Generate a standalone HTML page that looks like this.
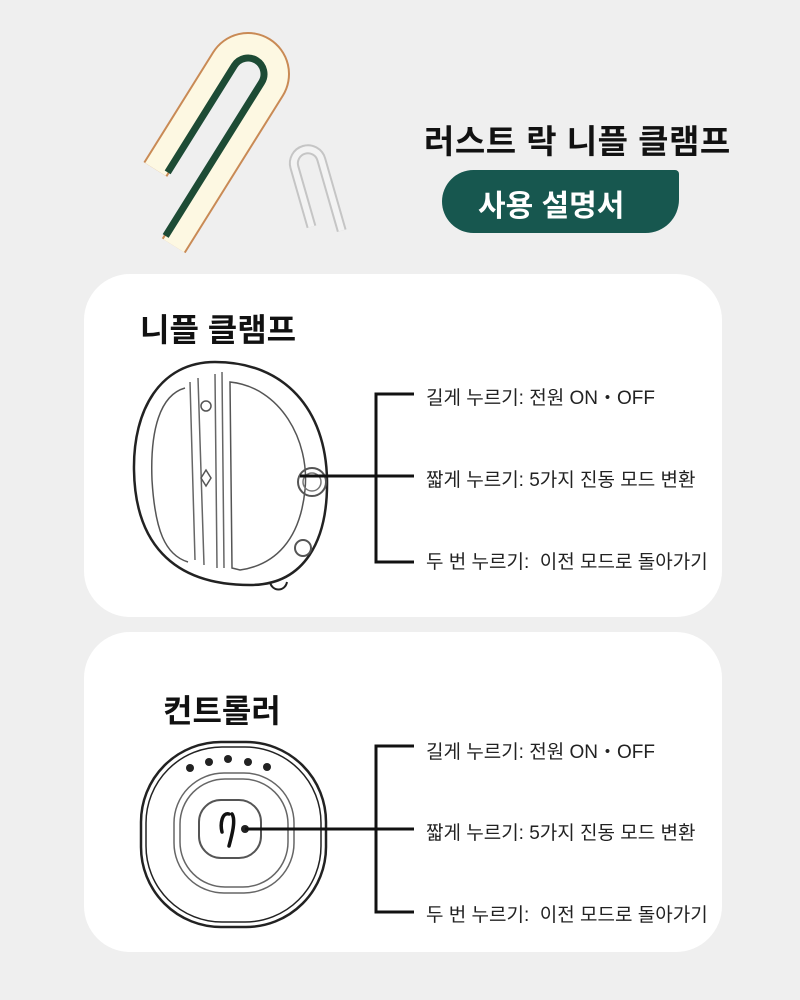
<!DOCTYPE html>
<html><head><meta charset="utf-8"><style>
html,body{margin:0;padding:0}
body{width:800px;height:1000px;background:#efefef;position:relative;overflow:hidden;font-family:"Liberation Sans","Noto Sans CJK KR",sans-serif;color:#111}
.abs{position:absolute}
.card{position:absolute;left:84px;width:638px;background:#fff;border-radius:46px}
.t{position:absolute;white-space:nowrap}
.lbl{position:absolute;font-size:19px;color:#222;white-space:nowrap;left:426px}
</style></head><body>
<svg class="abs" style="left:0;top:0" width="800" height="1000">
 <!-- big clip -->
 <g transform="translate(248,74) rotate(32)">
  <path d="M-28,130 L-28,0 A28,28 0 0 1 28,0 L28,185" fill="none" stroke="#c98a55" stroke-width="28" stroke-linejoin="round"/>
  <path d="M-28,130 L-28,0 A28,28 0 0 1 28,0 L28,185" fill="none" stroke="#fdf8e2" stroke-width="24"/>
  <path d="M-16,126 L-16,0 A16,16 0 0 1 16,0 L16,181" fill="none" stroke="#1d4b35" stroke-width="7"/>
 </g>
 <!-- small grey clip -->
 <g transform="translate(312,185) rotate(-16)" opacity="0.6">
  <path d="M-12,40 L-12,-22 A14,14 0 0 1 16,-22 L16,52" fill="none" stroke="#aaa" stroke-width="10"/>
  <path d="M-12,40 L-12,-22 A14,14 0 0 1 16,-22 L16,52" fill="none" stroke="#f6f6f6" stroke-width="6"/>
 </g>
</svg>
<div class="t" style="left:424px;top:115px;font-size:33px;font-weight:bold;letter-spacing:0.5px">러스트 락 니플 클램프</div>
<div class="abs" style="left:442px;top:170px;width:237px;height:63px;background:#17574f;border-radius:32px 4px 34px 32px"></div>
<div class="t" style="left:478px;top:181px;font-size:30px;font-weight:bold;color:#fff">사용 설명서</div>

<div class="card" style="top:274px;height:343px"></div>
<div class="card" style="top:632px;height:320px"></div>
<div class="t" style="left:140px;top:305px;font-size:32px;font-weight:bold">니플 클램프</div>
<div class="t" style="left:163px;top:686px;font-size:32px;font-weight:bold">컨트롤러</div>

<svg class="abs" style="left:0;top:0" width="800" height="1000">
 <!-- nipple clamp drawing -->
 <g fill="none" stroke="#222">
  <path d="M215,362 C160,362 133,410 134,470 C135,540 170,585 250,585 C305,585 328,540 327,480 C326,410 285,362 215,362 Z" stroke-width="2.5"/>
  <path d="M190,382 L195,560 M198,378 L204,565 M215,374 L217,568 M222,372 L224,568" stroke="#666" stroke-width="1.5"/>
  <path d="M230,382 C280,387 310,440 305,490 C300,540 275,565 240,570 L232,568 Z" stroke="#555" stroke-width="1.5"/>
  <path d="M185,388 C160,395 150,430 152,480 C155,530 165,555 188,562" stroke="#555" stroke-width="1.5"/>
  <circle cx="206" cy="406" r="5" stroke="#555" stroke-width="1.5"/>
  <path d="M206,470 L211,478 L206,486 L201,478 Z" stroke="#555" stroke-width="1.5"/>
  <circle cx="312" cy="482" r="14" stroke="#555" stroke-width="2"/>
  <circle cx="312" cy="482" r="9" stroke="#777" stroke-width="1.5"/>
  <circle cx="303" cy="548" r="8" stroke="#555" stroke-width="2"/>
  <path d="M270,582 C272,592 285,592 287,582" stroke-width="2"/>
 </g>
 <!-- controller drawing -->
 <g fill="none" stroke="#222">
  <rect x="141" y="742" width="185" height="185" rx="80" stroke-width="2.5"/>
  <rect x="146" y="747" width="175" height="175" rx="76" stroke-width="1.5"/>
  <rect x="174" y="773" width="120" height="120" rx="50" stroke="#666" stroke-width="1.5"/>
  <rect x="180" y="779" width="108" height="108" rx="45" stroke="#666" stroke-width="1.5"/>
  <rect x="199" y="800" width="62" height="58" rx="22" stroke="#555" stroke-width="2"/>
  <path d="M229,814 C222,812 220,824 222,832 M232,814 C236,820 232,835 229,846" stroke="#111" stroke-width="3.5" stroke-linecap="round"/>
 </g>
 <g fill="#222">
  <circle cx="190" cy="768" r="4"/><circle cx="209" cy="762" r="4"/><circle cx="228" cy="759" r="4"/><circle cx="248" cy="762" r="4"/><circle cx="267" cy="767" r="4"/>
  <circle cx="245" cy="829" r="4"/>
 </g>
 <!-- brackets -->
 <g stroke="#111" stroke-width="3" fill="none">
  <path d="M414,394 L376,394 L376,562 L414,562 M300,476 L414,476"/>
  <path d="M414,746 L376,746 L376,912 L414,912 M245,829 L414,829"/>
 </g>
</svg>
<div class="lbl" style="top:383px">길게 누르기: 전원 ON・OFF</div>
<div class="lbl" style="top:465px">짧게 누르기: 5가지 진동 모드 변환</div>
<div class="lbl" style="top:547px">두 번 누르기:&nbsp; 이전 모드로 돌아가기</div>
<div class="lbl" style="top:737px">길게 누르기: 전원 ON・OFF</div>
<div class="lbl" style="top:818px">짧게 누르기: 5가지 진동 모드 변환</div>
<div class="lbl" style="top:900px">두 번 누르기:&nbsp; 이전 모드로 돌아가기</div>
</body></html>
